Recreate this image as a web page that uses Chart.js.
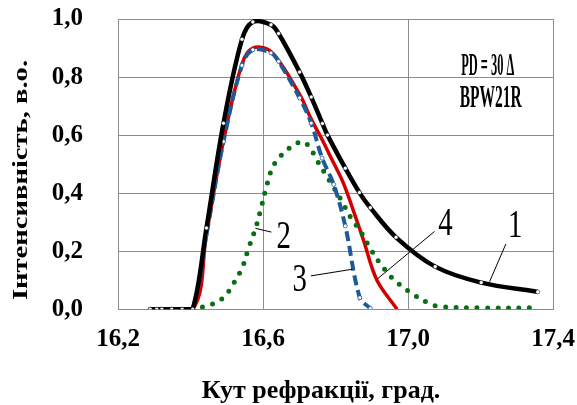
<!DOCTYPE html>
<html>
<head>
<meta charset="utf-8">
<script src="https://cdn.jsdelivr.net/npm/chart.js@4"></script>
<style>
  html, body { margin: 0; padding: 0; background: #fff; }
  canvas { display: block; }
</style>
</head>
<body>
<canvas id="refrChart" width="577" height="405"></canvas>
<script>
// curve 1 - black, with measured points
const angle1 = [16.289, 16.307, 16.321, 16.348, 16.377, 16.406, 16.444, 16.491, 16.542, 16.572, 16.622, 16.643,
  16.701, 16.733, 16.764, 16.778, 16.827, 16.866, 16.896, 16.967, 17.075, 17.202, 17.358];
const int1 = [0, 0, 0, 0, 0, 0, 0.28, 0.641, 0.93, 0.99, 0.98, 0.95,
  0.817, 0.731, 0.64, 0.6, 0.486, 0.402, 0.35, 0.248, 0.147, 0.092, 0.06];

// curve 2 - green dotted
const angle2 = [16.289, 16.406, 16.45, 16.476, 16.498, 16.514, 16.528, 16.542, 16.56, 16.579, 16.595, 16.608,
  16.625, 16.64, 16.661, 16.683, 16.709, 16.731, 16.744, 16.77, 16.795, 16.818, 16.845, 16.867, 16.894,
  16.924, 16.962, 17.008, 17.057, 17.086, 17.2, 17.35];
const int2 = [0, 0, 0.015, 0.026, 0.05, 0.078, 0.11, 0.14, 0.21, 0.277, 0.35, 0.415,
  0.486, 0.515, 0.543, 0.564, 0.578, 0.555, 0.524, 0.47, 0.42, 0.371, 0.31, 0.273, 0.214,
  0.156, 0.101, 0.057, 0.021, 0.01, 0.005, 0.005];

// curve 3 - blue dashed
const angle3 = [16.289, 16.307, 16.321, 16.348, 16.377, 16.406, 16.444, 16.491, 16.542, 16.572, 16.622, 16.643,
  16.701, 16.733, 16.763, 16.795, 16.827, 16.867, 16.896];
const int3 = [0, 0, 0, 0, 0, 0, 0.257, 0.578, 0.84, 0.894, 0.883, 0.854,
  0.728, 0.641, 0.521, 0.43, 0.287, 0.04, 0.003];

// curve 4 - red
const angle4 = [16.289, 16.406, 16.444, 16.491, 16.542, 16.572, 16.622, 16.701, 16.733, 16.763,
  16.786, 16.822, 16.855, 16.877, 16.914, 16.97];
const int4 = [0, 0, 0.26, 0.58, 0.845, 0.9, 0.888, 0.74, 0.655, 0.585,
  0.526, 0.434, 0.319, 0.239, 0.101, 0];

const xTicks = [16.2, 16.6, 17.0, 17.4];
const yTicks = [0, 0.2, 0.4, 0.6, 0.8, 1.0];

// curve numbers: label anchor and leader line, in axis units
const curveLabels = [
  { text: "1", x: 17.296, y: 0.249, from: [17.27, 0.225], to: [17.225, 0.095] },
  { text: "2", x: 16.657, y: 0.212, from: [16.623, 0.266], to: [16.579, 0.279] },
  { text: "3", x: 16.701, y: 0.064, from: [16.732, 0.115], to: [16.846, 0.138] },
  { text: "4", x: 17.103, y: 0.256, from: [17.073, 0.268], to: [16.914, 0.103] }
];
const noteLines = [
  { text: "PD = 30 \u0394", x: 17.22, y: 0.808, sx: 0.4 },
  { text: "BPW21R", x: 17.228, y: 0.698, sx: 0.5 }
];

const xTitle = "Кут рефракції, град.";
const yTitle = "Інтенсивність, в.о.";

function pts(xs, ys) {
  return xs.map((x, i) => ({ x: x, y: ys[i] }));
}

function fmt(v) {
  return v.toFixed(1).replace(".", ",");
}

// draw text squeezed horizontally
function narrowText(ctx, text, x, y, sx) {
  ctx.save();
  ctx.translate(x, y);
  ctx.scale(sx, 1);
  ctx.fillText(text, 0, 0);
  ctx.restore();
}

const labelsPlugin = {
  id: "curveLabels",
  afterDatasetsDraw(chart) {
    const ctx = chart.ctx;
    const xs = chart.scales.x;
    const ys = chart.scales.y;
    ctx.save();
    ctx.fillStyle = "#000";
    ctx.strokeStyle = "#000";
    ctx.lineWidth = 1;
    ctx.textAlign = "center";
    ctx.textBaseline = "alphabetic";

    curveLabels.forEach(l => {
      ctx.beginPath();
      ctx.moveTo(xs.getPixelForValue(l.from[0]), ys.getPixelForValue(l.from[1]));
      ctx.lineTo(xs.getPixelForValue(l.to[0]), ys.getPixelForValue(l.to[1]));
      ctx.stroke();
      ctx.font = "40px 'Liberation Serif'";
      narrowText(ctx, l.text, xs.getPixelForValue(l.x), ys.getPixelForValue(l.y), 0.72);
    });

    ctx.font = "bold 31px 'Liberation Serif'";
    noteLines.forEach(n => {
      narrowText(ctx, n.text, xs.getPixelForValue(n.x), ys.getPixelForValue(n.y), n.sx);
    });

    // axis titles
    ctx.font = "bold 26px 'Liberation Serif'";
    ctx.fillText(xTitle, 321, 398);
    ctx.translate(27, 180);
    ctx.rotate(-Math.PI / 2);
    ctx.scale(1.1, 0.82);
    ctx.fillText(yTitle, 0, 0);
    ctx.restore();
  }
};

const gridColor = "#8c8c8c";
const tickFont = { family: "'Liberation Serif'", size: 25, weight: "bold" };

new Chart(document.getElementById("refrChart").getContext("2d"), {
  type: "line",
  data: {
    datasets: [
      {
        label: "1",
        data: pts(angle1, int1),
        borderColor: "#000",
        borderWidth: 4.5,
        pointRadius: 2,
        pointBackgroundColor: "#fff",
        pointBorderColor: "#000",
        pointBorderWidth: 0.5,
        order: 1
      },
      {
        label: "3",
        data: pts(angle3, int3),
        borderColor: "#1f5a98",
        borderWidth: 4,
        borderDash: [10, 5],
        pointRadius: 2,
        pointBackgroundColor: "#fff",
        pointBorderColor: "#1f5a98",
        pointBorderWidth: 0.8,
        order: 2
      },
      {
        label: "2",
        data: pts(angle2, int2),
        borderColor: "#0a6e14",
        borderWidth: 5,
        borderDash: [0, 10.5],
        borderCapStyle: "round",
        pointRadius: 0,
        order: 3
      },
      {
        label: "4",
        data: pts(angle4, int4),
        borderColor: "#d40000",
        borderWidth: 3.5,
        pointRadius: 0,
        order: 4
      }
    ]
  },
  options: {
    responsive: false,
    animation: false,
    devicePixelRatio: 1,
    elements: { line: { tension: 0.35 } },
    layout: { padding: { left: 0, top: 19, right: 24, bottom: 0 } },
    plugins: {
      legend: { display: false },
      tooltip: { enabled: false }
    },
    scales: {
      x: {
        type: "linear",
        min: xTicks[0],
        max: xTicks[xTicks.length - 1],
        afterBuildTicks: scale => { scale.ticks = xTicks.map(v => ({ value: v })); },
        afterFit: scale => {
          scale.height = 95.7;
          scale.paddingLeft = 0;
          scale.paddingRight = 0;
        },
        grid: { color: gridColor, lineWidth: 1, drawTicks: false },
        border: { color: gridColor },
        ticks: { font: tickFont, color: "#000", padding: 15, maxRotation: 0, callback: v => fmt(v) }
      },
      y: {
        min: yTicks[0],
        max: yTicks[yTicks.length - 1],
        afterBuildTicks: scale => { scale.ticks = yTicks.map(v => ({ value: v })); },
        afterFit: scale => {
          scale.width = 118;
          scale.paddingTop = 0;
          scale.paddingBottom = 0;
        },
        grid: { color: gridColor, lineWidth: 1, drawTicks: false },
        border: { color: gridColor },
        ticks: { font: tickFont, color: "#000", padding: 35, callback: v => fmt(v) }
      }
    }
  },
  plugins: [labelsPlugin]
});
</script>
</body>
</html>
